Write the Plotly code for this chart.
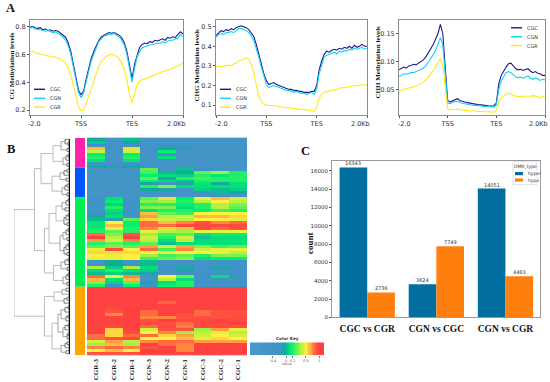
import plotly.graph_objects as go

W, H = 550, 382
SERIF = "Liberation Serif"
SANS = "DejaVu Sans"

# ---------- Panel A: methylation profiles (61 bins) ----------
BIN_TICKS = [0, 20, 40, 60]
CG_CGC = [.795,.80,.79,.785,.79,.775,.78,.77,.775,.765,.77,.765,.75,.735,.72,.68,.62,.53,.43,.345,.31,.335,.42,.50,.57,.62,.665,.70,.725,.735,.745,.755,.75,.755,.745,.735,.715,.68,.62,.53,.425,.53,.60,.65,.67,.68,.675,.69,.685,.70,.695,.705,.71,.70,.72,.715,.725,.72,.74,.76,.745]
CG_CGN = [.785,.795,.78,.78,.775,.77,.765,.77,.76,.755,.76,.75,.74,.72,.70,.66,.60,.51,.41,.325,.29,.32,.40,.48,.55,.60,.65,.69,.71,.73,.735,.745,.74,.75,.735,.725,.70,.665,.60,.50,.40,.50,.58,.62,.645,.655,.66,.665,.67,.675,.68,.675,.69,.68,.695,.70,.70,.71,.715,.74,.725]
CG_CGR = [.62,.625,.61,.605,.60,.595,.59,.59,.585,.58,.58,.575,.565,.55,.535,.50,.45,.38,.30,.225,.195,.20,.245,.30,.365,.42,.475,.515,.55,.57,.585,.595,.60,.595,.585,.565,.535,.49,.415,.315,.255,.315,.385,.41,.415,.425,.43,.44,.445,.455,.46,.47,.475,.485,.49,.495,.50,.51,.515,.525,.54]
CHG_CGC = [.455,.47,.48,.475,.485,.48,.49,.485,.495,.50,.505,.50,.495,.485,.47,.45,.41,.36,.31,.26,.225,.205,.21,.215,.205,.20,.195,.19,.185,.18,.18,.175,.175,.17,.17,.165,.165,.165,.17,.17,.20,.28,.325,.36,.375,.37,.38,.385,.38,.39,.385,.395,.39,.40,.39,.405,.395,.40,.41,.40,.40]
CHG_CGN = [.445,.46,.465,.46,.47,.47,.475,.47,.48,.49,.49,.485,.48,.47,.455,.43,.39,.345,.295,.245,.205,.19,.195,.20,.195,.19,.185,.18,.175,.175,.17,.165,.17,.165,.16,.16,.155,.16,.165,.155,.18,.26,.31,.345,.355,.36,.365,.37,.36,.375,.37,.38,.375,.385,.38,.39,.385,.39,.395,.385,.39]
CHG_CGR = [.295,.30,.295,.30,.30,.305,.30,.31,.315,.325,.33,.335,.34,.335,.31,.265,.205,.145,.115,.105,.10,.10,.098,.097,.095,.092,.09,.088,.087,.085,.085,.083,.082,.08,.078,.077,.075,.075,.072,.07,.09,.135,.155,.165,.17,.172,.175,.178,.18,.185,.19,.188,.192,.195,.198,.20,.198,.202,.205,.20,.206]
CHH_CGC = [.085,.087,.09,.088,.092,.093,.095,.094,.097,.10,.103,.108,.115,.122,.13,.14,.15,.167,.15,.09,.03,.027,.029,.031,.033,.03,.028,.027,.026,.025,.024,.024,.023,.022,.022,.021,.021,.02,.02,.02,.025,.06,.075,.083,.09,.096,.097,.092,.087,.085,.086,.084,.085,.087,.083,.08,.082,.079,.078,.075,.075]
CHH_CGN = [.073,.075,.078,.077,.079,.08,.08,.082,.084,.086,.088,.092,.098,.105,.112,.12,.13,.143,.13,.08,.025,.024,.026,.028,.028,.026,.025,.024,.023,.022,.022,.021,.021,.02,.02,.019,.019,.019,.018,.018,.022,.05,.065,.073,.08,.082,.08,.076,.072,.071,.072,.07,.072,.074,.07,.068,.07,.069,.066,.068,.067]
CHH_CGR = [.047,.049,.05,.051,.052,.053,.054,.056,.058,.06,.063,.067,.072,.078,.083,.09,.097,.106,.095,.05,.015,.013,.014,.014,.014,.013,.013,.012,.012,.011,.011,.011,.01,.01,.01,.01,.009,.009,.009,.009,.012,.028,.034,.038,.041,.043,.042,.039,.038,.037,.036,.038,.037,.038,.037,.039,.038,.036,.035,.037,.036]

# ---------- Panel B: heat map ----------
SAMPLES = ["CGR-3","CGR-2","CGR-1","CGN-3","CGN-2","CGN-1","CGC-3","CGC-2","CGC-1"]
b = -.5
HEAT = [
 [-.05,b,0,b,b,b,b,b,b],
 [.05,-.4,-.05,b,b,b,b,b,b],
 [-.2,b,-.2,b,-.2,-.3,b,b,b],
 [.7,b,.65,-.3,-.05,-.15,b,b,b],
 [.5,b,.5,b,.15,-.4,b,b,b],
 [.15,b,.15,b,-.3,b,b,b,b],
 [.2,b,.2,b,.1,b,b,b,b],
 [.12,b,.12,b,-.3,b,b,b,b],
 [-.4,-.4,-.4,b,b,b,b,b,b],
 [-.05,-.15,-.05,-.3,b,-.3,b,b,b],
 [b,b,b,.3,b,.0,-.2,b,b],
 [b,-.4,b,.25,.0,-.05,.3,.4,.2],
 [b,b,b,.15,.1,.05,.2,.12,.2],
 [b,-.2,b,.3,-.1,.2,.25,.2,.2],
 [b,b,b,.15,.1,.0,.2,.2,.2],
 [b,b,b,-.1,-.3,-.1,.12,-.05,.1],
 [b,-.3,b,.2,.35,.1,.1,.1,.1],
 [b,b,b,-.05,-.1,-.3,.05,.0,.05],
 [b,b,-.3,-.2,-.3,b,-.3,.0,-.05],
 [b,b,b,b,b,b,b,-.2,b],
 [-.2,.1,-.4,.3,.65,.15,.55,.7,.5],
 [-.3,.15,-.4,.35,.4,.2,.45,.6,.45],
 [-.3,.05,-.4,.2,.2,.15,.2,.45,.35],
 [-.3,.2,-.4,.35,.35,.1,.2,.45,.3],
 [-.3,.1,-.4,.1,.2,.2,.15,.25,.2],
 [-.2,.05,-.4,.7,.3,.25,.6,.6,.6],
 [-.05,.1,-.3,.75,.45,.5,.7,.7,.65],
 [0,-.1,.3,.65,.5,.45,.6,.6,.55],
 [.12,.6,.15,.85,.7,.8,.9,.8,.85],
 [.12,.7,.15,.85,.85,.95,.95,.95,.95],
 [.15,.55,.2,.8,.65,.7,.95,.85,.9],
 [.2,.3,.2,.55,.45,.4,.55,.55,.55],
 [.85,.35,.9,.4,.25,.3,.1,.15,.15],
 [1,.45,1,.5,.2,.5,.02,.1,.1],
 [.75,.5,.8,.45,.1,.45,.1,.1,.12],
 [.2,.3,.2,.3,0,.1,.1,.1,.1],
 [.3,.35,.3,.75,.5,.75,.35,.25,.3],
 [.55,.9,.6,.85,.25,.8,.5,.55,.55],
 [.65,.65,.65,.6,.55,.6,.6,.55,.45],
 [.6,.55,.6,.4,.25,.3,.2,.35,.35],
 [.55,.55,.6,.25,.3,.35,.1,.15,.15],
 [-.4,-.05,-.4,0,-.4,-.2,b,-.4,-.4],
 [-.3,-.05,-.4,0,-.4,-.2,b,-.45,-.45],
 [.4,.05,.4,.1,-.4,-.1,-.4,-.1,-.2],
 [.1,.2,.1,.05,-.4,-.1,-.4,-.3,-.3],
 [0,.05,0,-.1,-.4,-.2,-.4,-.3,-.35],
 [.85,.55,.8,-.2,.6,.3,-.4,.1,-.3],
 [.7,.1,.7,-.4,.45,.1,-.4,-.3,-.3],
 [.35,.05,.3,-.1,.1,.2,-.4,-.3,-.3],
 [.2,-.2,.15,b,.15,.2,-.45,-.4,-.4],
 [1,1,1,1,1,1,1,1,1],
 [1,1,1,1,1,1,1,1,1],
 [1,1,1,1,1,1,1,1,1],
 [1,1,1,1,1,1,.98,1,1],
 [1,1,1,1,1,1,1,1,1],
 [1,1,1,1,.85,1,1,1,1],
 [1,1,.97,1,1,1,1,1,1],
 [1,.95,1,1,1,1,1,1,1],
 [1,.9,1,.85,1,1,.85,.9,.9],
 [1,.8,1,.85,1,.95,.85,.9,.9],
 [1,1,1,.8,.8,.9,.9,.9,.95],
 [1,1,1,.9,1,.95,.95,1,.95],
 [1,.98,1,.95,.9,.85,.95,.95,1],
 [1,.95,1,.85,.95,.8,.95,.95,.9],
 [1,.65,1,.5,.9,.9,.4,.75,.55],
 [1,.65,.95,.6,.8,.4,.45,.55,.45],
 [.85,.65,.85,.85,.65,.75,.5,.6,.5],
 [.85,.9,.95,.6,.6,.7,.55,.65,.6],
 [.5,.75,.45,.8,.85,.85,.75,.75,.75],
 [.4,.7,.4,1,.85,.8,1,1,1],
 [.8,.85,.8,.9,1,.8,1,1,1],
 [.6,.7,.6,1,1,.8,1,1,1],
 [.9,.9,.9,1,1,1,1,1,1],
]
KEY_VALUES = [-1.09,-.9,-.7,-.5,-.3,-.2,-.15,-.1,-.05,0,.05,.1,.15,.2,.25,.3,.35,.4,.45,.5,.55,.6,.65,.7,.75,.8,.85,.9,.95,1,1.05,1.15]
KEY_TICKS = [-.4, 0, .2, .6, 1]
CLUSTER_SIZES = [10, 10, 30, 23]
CLUSTER_COLORS = ["#ff22aa", "#0055ff", "#00ee55", "#ffa500"]
# dendrogram: [merge height, left, right]; 0 is a single row
PINK = [17,[9,[5,0,[2,0,0]],[3,0,0]],[7,[4,[2,0,0],0],[3,0,0]]]
BLUE = [18,[10,[6,[3,0,0],0],[4,0,0]],[8,[5,[3,0,0],0],[3,0,0]]]
GREEN_A = [14,[8,[4,[2,0,0],0],[5,0,0]],[6,[4,[2,0,0],0],[3,0,0]]]
GREEN_B = [10,[7,[4,[2,0,0],0],[3,0,0]],[6,[4,[2,0,0],0],[3,0,0]]]
GREEN_C = [16.5,[9,[5,[2,0,0],0],[3,0,0]],[7,[4,[2,0,0],0],[3,0,0]]]
ORANGE_A = [16,[8,[4,0,0],0],[6,[3,0,0],0]]
ORANGE_B = [18,[12,[9,[5,[2,0,0],0],[4,[2,0,0],0]],[7,[5,[2,0,0],0],[3,[2,0,0],0]]],[9,[5,[3,0,0],0],[4,0,0]]]
TREE = [56,[35.5,[29,PINK,BLUE],[25.5,[21,GREEN_A,GREEN_B],GREEN_C]],[25.5,ORANGE_A,ORANGE_B]]

# ---------- Panel C: DMR counts ----------
COMPARISONS = ["CGC vs CGR", "CGN vs CGC", "CGN vs CGR"]
HYPER = [16343, 3624, 14051]
HYPO = [2736, 7749, 4483]

for arr in (CG_CGC,CG_CGN,CG_CGR,CHG_CGC,CHG_CGN,CHG_CGR,CHH_CGC,CHH_CGN,CHH_CGR):
    assert len(arr) == 61
assert len(HEAT) == 73 and all(len(r) == 9 for r in HEAT)

NAVY, CYAN, YELLOW = "#1c1a8e", "#14d2f5", "#ffe81c"
SCALE_MIN, SCALE_MAX = -1.1, 1.15
def stop(v): return (v - SCALE_MIN) / (SCALE_MAX - SCALE_MIN)
COLORSCALE = [[stop(v), c] for v, c in [(-1.1,"#4a98c9"),(-.2,"#3f93c6"),(-.05,"#12ab9a"),(.15,"#00f070"),
                                         (.4,"#a0f040"),(.6,"#fff040"),(.75,"#ffa040"),(.9,"#ff5040"),(1.0,"#ff4040"),(1.15,"#ff4040")]]

def xd(x0, x1): return [x0 / W, x1 / W]
def yd(y0, y1): return [1 - y1 / H, 1 - y0 / H]

fig = go.Figure()
layout = dict(width=W, height=H, margin=dict(l=0, r=0, t=0, b=0), paper_bgcolor="white",
              plot_bgcolor="white", showlegend=False, bargap=0.2, bargroupgap=0, barmode="group")
annotations, shapes = [], []

def text(x, y, s, size, family=SANS, bold=False, color="#333", angle=0, xanchor="center"):
    annotations.append(dict(xref="paper", yref="paper", x=x / W, y=1 - y / H, text=f"<b>{s}</b>" if bold else s,
                            showarrow=False, font=dict(family=family, size=size, color=color),
                            textangle=angle, xanchor=xanchor, yanchor="middle", xshift=0, yshift=0))

FRAME = "#8c8c8c"
panels = [
    ("", (30,183), (0.165,0.846), [.2,.4,.6,.8], ["0.2","0.4","0.6","0.8"], "CG Methylation levels", (CG_CGC,CG_CGN,CG_CGR), 12, 34, 67),
    ("2", (216,367), (0.049,0.535), [.1,.2,.3,.4,.5], ["0.1","0.2","0.3","0.4","0.5"], "CHG Methylation levels", (CHG_CGC,CHG_CGN,CHG_CGR), 197, 220, 66),
    ("3", (399,545), (0.0036,0.175), [.05,.10,.15], ["0.05","0.10","0.15"], "CHH Methylation levels", (CHH_CGC,CHH_CGN,CHH_CGR), 378, 511, 63),
]
for sfx, (x0, x1), yr, yt, ytt, ttl, series, ttlx, legx, ttly in panels:
    for name, vals, col in zip(("CGC","CGN","CGR"), series, (NAVY,CYAN,YELLOW)):
        fig.add_trace(go.Scatter(x=list(range(61)), y=vals, name=name, mode="lines", xaxis="x"+sfx, yaxis="y"+sfx,
                                 line=dict(color=col, width=1.1), hoverinfo="skip"))
    layout["xaxis"+sfx] = dict(domain=xd(x0,x1), range=[0,60], anchor="y"+sfx, tickvals=BIN_TICKS,
                               ticktext=["","TSS","TES",""], showgrid=False, zeroline=False, showline=True, mirror=True,
                               linecolor=FRAME, linewidth=1, ticks="outside", ticklen=2, tickcolor="#555",
                               tickfont=dict(family=SANS, size=6.5, color="#333"))
    layout["yaxis"+sfx] = dict(domain=yd(20,116), range=list(yr), anchor="x"+sfx, tickvals=yt, ticktext=ytt,
                               showgrid=False, zeroline=False, showline=True, mirror=True, linecolor=FRAME, linewidth=1,
                               ticks="outside", ticklen=2, tickcolor="#555", tickfont=dict(family=SANS, size=6.5, color="#333"))
    text(ttlx, ttly, ttl, 7, SERIF, True, "#111", -90)
    text(x0+5, 125, "-2.0", 6.5)
    text(x1-7, 125, "2.0Kb", 6.5)
    ly = (28,37,46) if sfx == "3" else (90,99,108)
    for name, col, yy in zip(("CGC","CGN","CGR"), (NAVY,CYAN,YELLOW), ly):
        shapes.append(dict(type="line", xref="paper", yref="paper", x0=(legx)/W, x1=(legx+11)/W,
                           y0=1-yy/H, y1=1-yy/H, line=dict(color=col, width=1.4)))
        text(legx+14, yy, name, 5, xanchor="left")

# dendrogram
seg = {"light": ([], []), "mid": ([], []), "dark": ([], [])}
counter = [0]
def walk(n):
    if n == 0:
        counter[0] += 1
        return 0.0, counter[0] - 1.0
    h, l, r = n
    lh, ly = walk(l)
    rh, ry = walk(r)
    key = "light" if h > 12 else ("mid" if h > 6 else "dark")
    xs, ys = seg[key]
    xs += [lh, h, h, rh, None]
    ys += [ly, ly, ry, ry, None]
    return h, (ly + ry) / 2
walk(TREE)
assert counter[0] == 73
for key, col, wd in (("light","#b4b4b4",.9),("mid","#8c8c8c",.8),("dark","#444444",.7)):
    fig.add_trace(go.Scatter(x=seg[key][0], y=seg[key][1], mode="lines", xaxis="x4", yaxis="y4",
                             line=dict(color=col, width=wd), hoverinfo="skip"))
fig.add_trace(go.Scatter(x=[0]*73, y=list(range(73)), mode="lines", xaxis="x4", yaxis="y4",
                         line=dict(color="black", width=2.4), hoverinfo="skip"))
layout["xaxis4"] = dict(domain=xd(14,70), range=[56,0], visible=False, anchor="y4")
layout["yaxis4"] = dict(domain=yd(139,358), range=[72.5,-.5], visible=False, anchor="x4")

# cluster colour bar
start = 0
for size, col in zip(CLUSTER_SIZES, CLUSTER_COLORS):
    fig.add_trace(go.Bar(x=[0], y=[size], base=[start], xaxis="x5", yaxis="y5", marker=dict(color=col, line_width=0),
                         width=1, offset=-.5, hoverinfo="skip"))
    start += size
layout["xaxis5"] = dict(domain=xd(75,85), range=[-.5,.5], visible=False, anchor="y5")
layout["yaxis5"] = dict(domain=yd(139,358), range=[73,0], visible=False, anchor="x5")

# heat map
fig.add_trace(go.Heatmap(z=HEAT, x=SAMPLES, y=list(range(73)), xaxis="x6", yaxis="y6", colorscale=COLORSCALE,
                         zmin=SCALE_MIN, zmax=SCALE_MAX, showscale=False, hoverinfo="skip"))
layout["xaxis6"] = dict(domain=xd(87,247), anchor="y6", tickangle=-90, ticks="", showgrid=False, zeroline=False,
                        tickfont=dict(family=SERIF, size=7, color="#111", weight="bold"), ticklen=0, automargin=False,
                        showline=True, mirror=True, linecolor="#b5d8ee")
layout["yaxis6"] = dict(domain=yd(139,358), range=[72.5,-.5], visible=False, anchor="x6")

# colour key
fig.add_trace(go.Heatmap(z=[KEY_VALUES], x=KEY_VALUES, y=[0], xaxis="x7", yaxis="y7", colorscale=COLORSCALE,
                         zmin=SCALE_MIN, zmax=SCALE_MAX, showscale=False, hoverinfo="skip", zsmooth="best"))
layout["xaxis7"] = dict(domain=xd(250,324), range=[-1.09,1.15], anchor="y7", tickvals=KEY_TICKS,
                        ticktext=["-0.4","0","0.2","0.6","1"], ticks="outside", ticklen=1.5, tickwidth=.5, tickcolor="#777",
                        tickfont=dict(family=SANS, size=3.5, color="#555"), showgrid=False, zeroline=False)
layout["yaxis7"] = dict(domain=yd(345,358), visible=False, anchor="x7", range=[-.5,.5])
text(287, 341.5, "Color Key", 4.2, SANS, True, "#333")
text(287, 366.5, "Value", 3.5, SANS, False, "#666")

# bars
fig.add_trace(go.Bar(x=COMPARISONS, y=HYPER, name="hyper", xaxis="x8", yaxis="y8", marker=dict(color="#006f9f", line_width=0), hoverinfo="skip"))
fig.add_trace(go.Bar(x=COMPARISONS, y=HYPO, name="hypo", xaxis="x8", yaxis="y8", marker=dict(color="#ff7f0e", line_width=0), hoverinfo="skip"))
for shift, vals in ((-.2, HYPER), (.2, HYPO)):
    for i, v in enumerate(vals):
        annotations.append(dict(xref="x8", yref="y8", x=i + shift, y=v, text=str(v), showarrow=False, yanchor="bottom",
                                yshift=-1, font=dict(family=SANS, size=5, color="#333")))
layout["xaxis8"] = dict(domain=xd(332,540), range=[-.51,2.5], anchor="y8", showline=True, mirror=True, linecolor="#9a9a9a",
                        linewidth=1, ticks="outside", ticklen=2, tickcolor="white", tickfont=dict(family=SERIF, size=9.5, color="#111", weight="bold"),
                        showgrid=False, zeroline=False)
layout["yaxis8"] = dict(domain=yd(162,320), range=[0,17081], anchor="x8", showline=True, mirror=True, linecolor="#9a9a9a",
                        linewidth=1, tickvals=list(range(0,16001,2000)), tickformat="d", ticks="outside", ticklen=2, tickcolor="#555",
                        tickfont=dict(family=SANS, size=5.5, color="#333"), showgrid=False, zeroline=False)
text(310, 245, "count", 9, SERIF, True, "#111", -90)

# legend of panel C
shapes.append(dict(type="rect", xref="paper", yref="paper", x0=513/W, x1=537/W, y0=1-186/H, y1=1-163/H,
                   line=dict(color="#d0d0d0", width=.6), fillcolor="white", layer="above"))
text(525, 168, "DMR_type", 4.5, SANS, False, "#333")
for name, col, yy in (("hyper","#006f9f",175),("hypo","#ff7f0e",181.5)):
    shapes.append(dict(type="rect", xref="paper", yref="paper", x0=515/W, x1=523/W, y0=1-(yy+1.6)/H, y1=1-(yy-1.6)/H,
                       line_width=0, fillcolor=col, layer="above"))
    text(526, yy, name, 4.5, SANS, False, "#333", xanchor="left")

# panel letters
text(10, 8, "A", 12.5, SERIF, True, "#111")
text(11, 150, "B", 12.5, SERIF, True, "#111")
text(305, 152, "C", 12.5, SERIF, True, "#111")

layout["annotations"] = annotations
layout["shapes"] = shapes
fig.update_layout(**layout)
fig.write_html("out.html", config={"displayModeBar": False},
               post_script="document.body.style.margin='0';document.documentElement.style.overflow='hidden';")
